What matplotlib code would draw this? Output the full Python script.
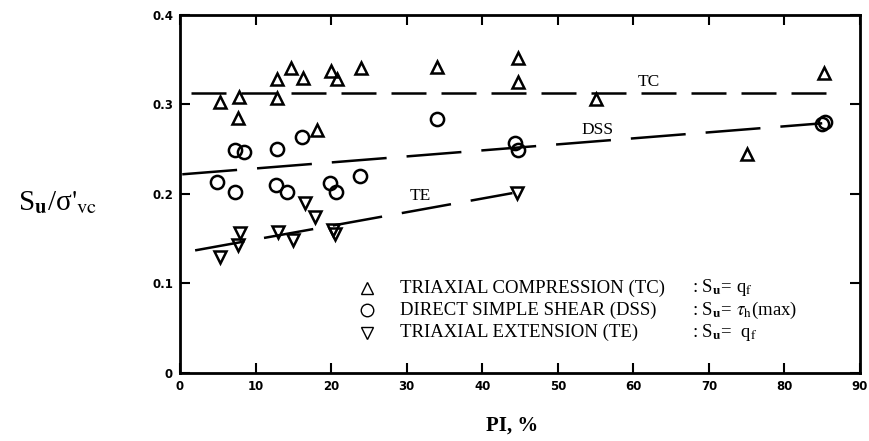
"""Undrained strength ratio vs plasticity index for TC, DSS and TE tests."""

import matplotlib
matplotlib.use("Agg")
import matplotlib.pyplot as plt

plt.rcParams["mathtext.fontset"] = "stix"
plt.rcParams["font.family"] = "serif"
plt.rcParams["font.serif"] = ["Liberation Serif", "DejaVu Serif"]

# Triaxial compression (TC)
tc_pi = [5.3, 7.8, 7.7, 12.9, 12.8, 14.7, 16.3, 20.0, 20.8, 24.0, 34.0, 18.1,
         44.8, 44.8, 55.1, 75.1, 85.2]
tc_su = [0.303, 0.308, 0.285, 0.328, 0.307, 0.341, 0.330, 0.337, 0.328, 0.341,
         0.342, 0.272, 0.352, 0.325, 0.306, 0.245, 0.335]

# Direct simple shear (DSS)
dss_pi = [4.9, 7.3, 7.3, 8.5, 12.8, 12.7, 14.2, 16.2, 19.9, 20.7, 23.8, 34.0,
          44.4, 44.8, 85.0, 85.4]
dss_su = [0.213, 0.202, 0.249, 0.247, 0.250, 0.210, 0.202, 0.264, 0.212, 0.202,
          0.220, 0.284, 0.257, 0.249, 0.278, 0.280]

# Triaxial extension (TE)
te_pi = [5.3, 7.7, 7.9, 13.0, 15.0, 16.6, 17.9, 20.3, 20.5, 44.6]
te_su = [0.130, 0.143, 0.156, 0.158, 0.149, 0.190, 0.174, 0.160, 0.155, 0.201]

# Trend lines (end points)
tc_line_pi = [1.5, 87.0]
tc_line_su = [0.313, 0.313]
dss_line_pi = [0.3, 85.0]
dss_line_su = [0.222, 0.279]
te_line_pi = [2.0, 44.0]
te_line_su = [0.137, 0.201]

x_ticks = [0, 10, 20, 30, 40, 50, 60, 70, 80, 90]
y_ticks = [0, 0.1, 0.2, 0.3, 0.4]
y_tick_labels = ["0", "0.1", "0.2", "0.3", "0.4"]

fig = plt.figure(figsize=(8.7, 4.41), dpi=100)
ax = fig.add_axes([0.2069, 0.1542, 0.7816, 0.8118])

mk = dict(linestyle="none", markerfacecolor="none", markeredgecolor="black",
          markeredgewidth=1.8)
ax.plot(tc_pi, tc_su, marker="^", markersize=8, **mk)
ax.plot(dss_pi, dss_su, marker="o", markersize=9.5, **mk)
ax.plot(te_pi, te_su, marker="v", markersize=8, **mk)

ax.plot(tc_line_pi, tc_line_su, color="black", linewidth=1.8,
        dashes=(14, 6))
ax.plot(dss_line_pi, dss_line_su, color="black", linewidth=1.8,
        dashes=(22, 8))
ax.plot(te_line_pi, te_line_su, color="black", linewidth=1.8,
        dashes=(20, 8))

ax.text(62.0, 0.325, "TC", fontsize=12.5, ha="center", va="center")
ax.text(55.2, 0.271, "DSS", fontsize=12.5, ha="center", va="center")
ax.text(31.8, 0.198, "TE", fontsize=12.5, ha="center", va="center")

# Legend drawn by hand
leg_mk = dict(linestyle="none", markerfacecolor="none",
              markeredgecolor="black", markeredgewidth=1.0)
ax.plot([24.8], [0.095], marker="^", markersize=8, **leg_mk)
ax.plot([24.8], [0.070], marker="o", markersize=9, **leg_mk)
ax.plot([24.8], [0.045], marker="v", markersize=8, **leg_mk)
leg_fs = 13.5
ax.text(29.1, 0.095, "TRIAXIAL COMPRESSION (TC)", fontsize=leg_fs, va="center")
ax.text(29.1, 0.070, "DIRECT SIMPLE SHEAR (DSS)", fontsize=leg_fs, va="center")
ax.text(29.1, 0.045, "TRIAXIAL EXTENSION (TE)", fontsize=leg_fs, va="center")
ax.text(67.8, 0.095, r": S$_\mathbf{u}$= q$_\mathrm{f}$", fontsize=leg_fs,
        va="center")
ax.text(67.8, 0.070, r": S$_\mathbf{u}$= $\tau_\mathrm{h}$(max)", fontsize=leg_fs,
        va="center")
ax.text(67.8, 0.045, r": S$_\mathbf{u}$=  q$_\mathrm{f}$", fontsize=leg_fs,
        va="center")

ax.set_xlim(0, 90)
ax.set_ylim(0, 0.4)
ax.set_xticks(x_ticks)
ax.set_xticklabels([str(v) for v in x_ticks], fontfamily="DejaVu Sans",
                   fontweight="bold", fontsize=8.5)
ax.set_yticks(y_ticks)
ax.set_yticklabels(y_tick_labels, fontfamily="DejaVu Sans",
                   fontweight="bold", fontsize=8.5)
ax.tick_params(direction="in", top=True, right=True, length=7, width=1.5,
               pad=5)
for s in ax.spines.values():
    s.set_linewidth(2)

fig.text(512 / 870, 1 - 426 / 441, "PI, %", fontsize=15, fontweight="bold",
         ha="center", va="center")
fig.text(58 / 870, 1 - 203 / 441, r"S$_\mathbf{u}$/σ$'_\mathrm{vc}$",
         fontsize=21, ha="center", va="center")

fig.savefig("out.png", dpi=100)
